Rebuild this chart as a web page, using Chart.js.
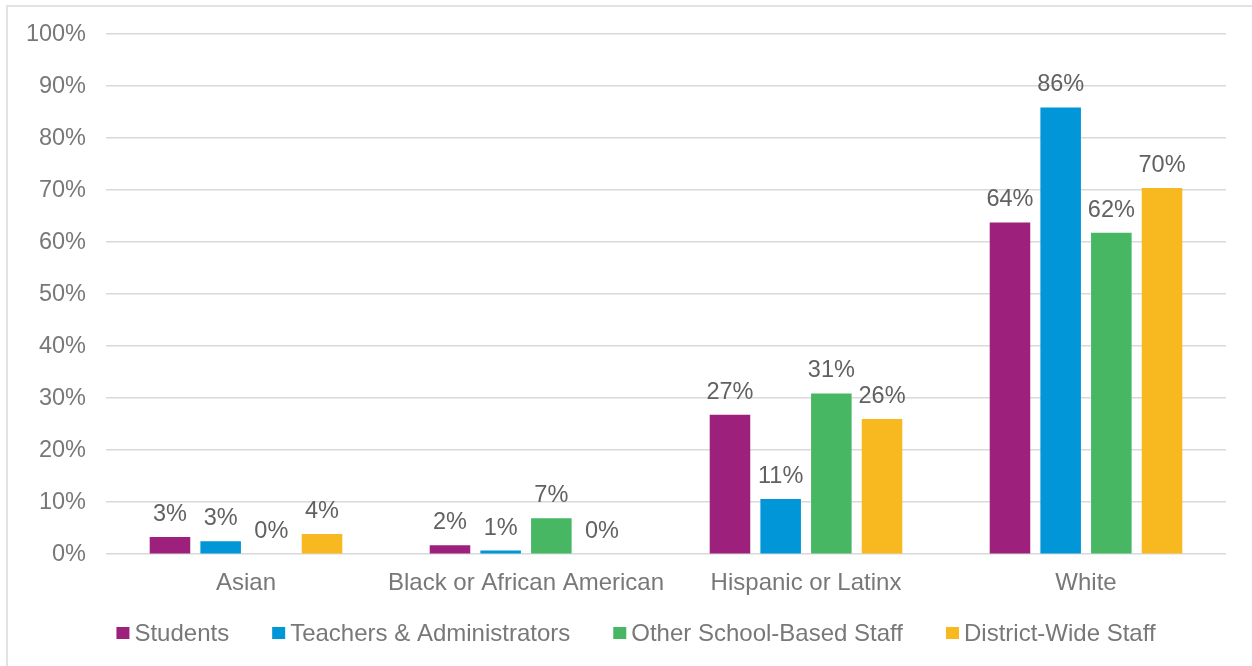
<!DOCTYPE html>
<html>
<head>
<meta charset="utf-8">
<script src="https://cdn.jsdelivr.net/npm/chart.js@4/dist/chart.umd.min.js"></script>
<style>
  html, body { margin: 0; padding: 0; background: #fff; }
  #wrap { position: relative; width: 1252px; height: 666px; overflow: hidden; }
  #frame {
    position: absolute; left: 6px; top: 5px; width: 1400px; height: 800px;
    border-left: 2px solid #e2e2e2; border-top: 2px solid #e2e2e2;
  }
  #grafico { position: absolute; left: 0; top: 0; }
</style>
</head>
<body>
<div id="wrap">
  <div id="frame"></div>
  <canvas id="grafico" width="1252" height="666"></canvas>
</div>
<script>
// Percent of each group by race/ethnicity
const categorias = ['Asian', 'Black or African American', 'Hispanic or Latinx', 'White'];
const students = [3.3, 1.7, 26.8, 63.8];
const teachers = [2.5, 0.7, 10.6, 85.9];
const otherStaff = [0, 6.9, 30.9, 61.8];
const districtStaff = [3.9, 0, 26.0, 70.4];
const ticksY = [0, 10, 20, 30, 40, 50, 60, 70, 80, 90, 100];

const fonte = "'Liberation Sans', Arial, sans-serif";
const corTexto = '#787878';

// writes the rounded % above every bar
const rotulos = {
    id: 'rotulos',
    afterDatasetsDraw(chart) {
        const ctx = chart.ctx;
        ctx.save();
        ctx.font = '23.5px ' + fonte;
        ctx.fillStyle = '#616161';
        ctx.textAlign = 'center';
        ctx.textBaseline = 'alphabetic';
        chart.data.datasets.forEach((ds, i) => {
            chart.getDatasetMeta(i).data.forEach((bar, j) => {
                ctx.fillText(Math.round(ds.data[j]) + '%', bar.x, bar.y - 16);
            });
        });
        ctx.restore();
    }
};

// legend in one row under the axis: small square, then the name
const legenda = {
    id: 'legenda',
    afterDraw(chart) {
        const ctx = chart.ctx;
        const caixa = 13, respiro = 5, espaco = 43;
        const y = 633;
        ctx.save();
        ctx.font = '24px ' + fonte;
        ctx.textBaseline = 'middle';
        ctx.textAlign = 'left';
        const itens = chart.data.datasets.map(ds => ({
            nome: ds.label,
            cor: ds.backgroundColor,
            w: ctx.measureText(ds.label).width
        }));
        const total = itens.reduce((s, it) => s + caixa + respiro + it.w, 0) + espaco * (itens.length - 1);
        let x = chart.width / 2 + 10 - total / 2;
        itens.forEach(it => {
            ctx.fillStyle = it.cor;
            ctx.fillRect(x, y - 6, caixa, 12);
            ctx.fillStyle = corTexto;
            ctx.fillText(it.nome, x + caixa + respiro, y + 1);
            x += caixa + respiro + it.w + espaco;
        });
        ctx.restore();
    }
};

const data_grafico = {
    labels: categorias,
    datasets: [
        { label: 'Students', data: students, backgroundColor: '#9e207d' },
        { label: 'Teachers & Administrators', data: teachers, backgroundColor: '#0096d8' },
        { label: 'Other School-Based Staff', data: otherStaff, backgroundColor: '#47b763' },
        { label: 'District-Wide Staff', data: districtStaff, backgroundColor: '#f8b820' }
    ]
};

const config_grafico = {
    type: 'bar',
    data: data_grafico,
    plugins: [rotulos, legenda],
    options: {
        responsive: false,
        animation: false,
        layout: { padding: { left: 26, right: 26, top: 34, bottom: 53 } },
        datasets: {
            bar: { categoryPercentage: 0.724, barPercentage: 0.8, borderWidth: 0 }
        },
        scales: {
            x: {
                grid: { display: false, drawTicks: false },
                border: { display: false },
                ticks: {
                    color: corTexto,
                    font: { family: fonte, size: 24 },
                    padding: 15,
                    maxRotation: 0,
                    minRotation: 0,
                    autoSkip: false
                }
            },
            y: {
                min: 0,
                max: 100,
                afterFit(scale) { scale.width = 80; },
                afterBuildTicks(scale) { scale.ticks = ticksY.map(v => ({ value: v })); },
                grid: { color: '#d9d9d9', lineWidth: 1.5, drawTicks: false },
                border: { display: false },
                ticks: {
                    color: corTexto,
                    font: { family: fonte, size: 23.5 },
                    padding: 20,
                    callback: v => v + '%'
                }
            }
        },
        plugins: {
            tooltip: { enabled: false },
            legend: { display: false }
        }
    }
};

const grafico = new Chart(document.getElementById('grafico'), config_grafico);
</script>
</body>
</html>
